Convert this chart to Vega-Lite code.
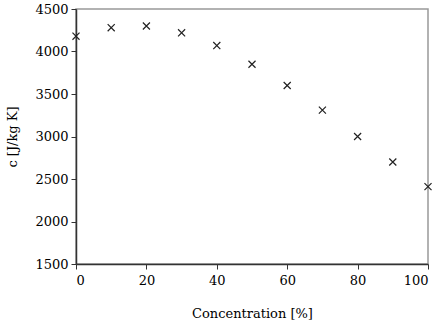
{
  "$schema": "https://vega.github.io/schema/vega-lite/v6.json",
  "autosize": "none",
  "width": 352,
  "height": 255,
  "padding": {"left": 76, "top": 9, "right": 17, "bottom": 66},
  "background": "white",
  "config": {
    "view": {"stroke": "#999999", "strokeWidth": 1.5},
    "font": "DejaVu Serif"
  },
  "data": {
    "values": [
      {"conc": 0, "c": 4180},
      {"conc": 10, "c": 4280},
      {"conc": 20, "c": 4300},
      {"conc": 30, "c": 4220},
      {"conc": 40, "c": 4070},
      {"conc": 50, "c": 3850},
      {"conc": 60, "c": 3600},
      {"conc": 70, "c": 3310},
      {"conc": 80, "c": 3000},
      {"conc": 90, "c": 2700},
      {"conc": 100, "c": 2410}
    ]
  },
  "mark": {
    "type": "point",
    "shape": "M-1,-1L1,1M-1,1L1,-1",
    "size": 50,
    "filled": false,
    "stroke": "#222222",
    "strokeWidth": 1.2,
    "opacity": 1
  },
  "encoding": {
    "x": {
      "field": "conc",
      "type": "quantitative",
      "scale": {"domain": [0, 100], "nice": false},
      "axis": {
        "title": "Concentration [%]",
        "values": [0, 20, 40, 60, 80, 100],
        "format": "d",
        "grid": false,
        "domainColor": "#333333",
        "domainWidth": 1.5,
        "tickColor": "#333333",
        "tickSize": 5,
        "labelFont": "DejaVu Serif",
        "labelFontSize": 13,
        "labelColor": "#000000",
        "labelPadding": 5,
        "titleFont": "DejaVu Serif",
        "titleFontSize": 13,
        "titleFontWeight": "normal",
        "titleColor": "#000000",
        "titlePadding": 20
      }
    },
    "y": {
      "field": "c",
      "type": "quantitative",
      "scale": {"domain": [1500, 4500], "nice": false, "zero": false},
      "axis": {
        "title": "c [J/kg K]",
        "values": [1500, 2000, 2500, 3000, 3500, 4000, 4500],
        "format": "d",
        "grid": false,
        "domainColor": "#333333",
        "domainWidth": 1.5,
        "tickColor": "#333333",
        "tickSize": 5,
        "labelFont": "DejaVu Serif",
        "labelFontSize": 13,
        "labelColor": "#000000",
        "labelPadding": 3,
        "titleFont": "DejaVu Serif",
        "titleFontSize": 13,
        "titleFontWeight": "normal",
        "titleColor": "#000000",
        "titlePadding": 15
      }
    }
  }
}
